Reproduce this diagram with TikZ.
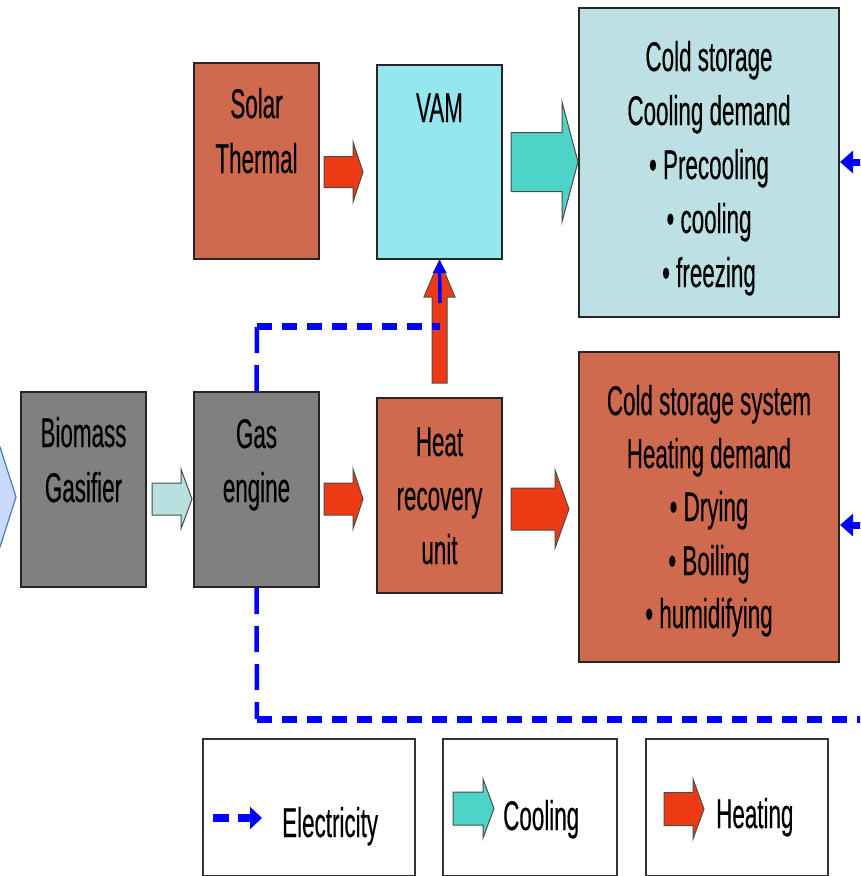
\documentclass[tikz,border=0pt]{standalone}
\usepackage{fontspec}
\setmainfont{Liberation Sans}[FakeStretch=0.54,FakeBold=0.3]
\usetikzlibrary{arrows.meta}
\definecolor{grayfill}{HTML}{808080}
\definecolor{terra}{HTML}{D06A4F}
\definecolor{vamcyan}{HTML}{96E6F0}
\definecolor{coolbox}{HTML}{BCE0E3}
\definecolor{tealarr}{HTML}{4ED3C8}
\definecolor{redarr}{HTML}{EE3A14}
\definecolor{lightarr}{HTML}{B8E0E0}
\definecolor{pentfill}{HTML}{C9DAF8}
\definecolor{pentline}{HTML}{4A7EBB}
\definecolor{elecblue}{HTML}{0000FF}
\newcommand\myharrow[7]{%
  \filldraw[blockarr, fill=#7] (#1,{#4-#5}) -- (#3,{#4-#5}) -- (#3,{#4-#6}) -- (#2,#4)
    -- (#3,{#4+#6}) -- (#3,{#4+#5}) -- (#1,{#4+#5}) -- cycle;}
\begin{document}
\begin{tikzpicture}[x=1pt,y=-1pt,
  boxnode/.style={draw=black!85, line width=2pt, inner sep=0pt},
  legbox/.style={draw=black!80, line width=1.4pt, fill=white, inner sep=0pt},
  txt/.style={anchor=base, inner sep=0pt, font=\fontsize{41.5}{54}\selectfont},
  blockarr/.style={draw=black!70, line width=1pt, line join=miter},
  elech/.style={draw=elecblue, line width=7pt, dash pattern=on 15pt off 10pt},
  elecv/.style={draw=elecblue, line width=4.5pt, dash pattern=on 26pt off 12pt},
]
\useasboundingbox (0,0) rectangle (860,876);
\clip (0,0) rectangle (860,876);

% partial input arrow on the left
\filldraw[fill=pentfill, draw=pentline, line width=1.2pt]
  (-20,447) -- (0,447) -- (16,497) -- (0,547) -- (-20,547) -- cycle;

% boxes
\node[boxnode, fill=grayfill, minimum width=125pt, minimum height=195pt] (gasifier) at (83.5,489.5) {};
\node[boxnode, fill=grayfill, minimum width=125pt, minimum height=195pt] (engine) at (256.5,489.5) {};
\node[boxnode, fill=terra, minimum width=125pt, minimum height=195pt] (hru) at (439.5,495.5) {};
\node[boxnode, fill=terra, minimum width=125pt, minimum height=196pt] (solar) at (256.5,161) {};
\node[boxnode, fill=vamcyan, minimum width=125pt, minimum height=194pt] (vam) at (439.5,162) {};
\node[boxnode, fill=coolbox, minimum width=260pt, minimum height=309pt] (cool) at (709,162.5) {};
\node[boxnode, fill=terra, minimum width=260pt, minimum height=310pt] (heat) at (709,507) {};

% box texts
\node[txt] (t1) at (83.5,447) {Biomass};
\node[txt] (t2) at (83.5,502) {Gasifier};
\node[txt] (t3) at (256.5,448) {Gas};
\node[txt] (t4) at (256.5,502) {engine};
\node[txt] (t5) at (439.5,456) {Heat};
\node[txt] (t6) at (439.5,510) {recovery};
\node[txt] (t7) at (439.5,564) {unit};
\node[txt] (t8) at (256.5,118) {Solar};
\node[txt] (t9) at (256.5,173) {Thermal};
\node[txt] (t10) at (439.5,122) {VAM};
\node[txt] (c1) at (709,71) {Cold storage};
\node[txt] (c2) at (709,125) {Cooling demand};
\node[txt] (c3) at (709,179) {• Precooling};
\node[txt] (c4) at (709,233) {• cooling};
\node[txt] (c5) at (709,287) {• freezing};
\node[txt] (h1) at (709,415) {Cold storage system};
\node[txt] (h2) at (709,468) {Heating demand};
\node[txt] (h3) at (709,521) {• Drying};
\node[txt] (h4) at (709,575) {• Boiling};
\node[txt] (h5) at (709,628) {• humidifying};

% block arrows
\myharrow{152}{192}{181}{499}{16}{30}{lightarr}
\myharrow{324}{363}{353}{499}{16}{30}{redarr}
\myharrow{324}{363}{353}{172}{15.5}{30}{redarr}
\myharrow{511}{578}{562}{162}{29.5}{60}{tealarr}
\myharrow{511}{569}{555}{509}{21}{39}{redarr}
\filldraw[blockarr, fill=redarr] (432,383) -- (432,297) -- (424,297) -- (vam.south)
  -- (455,297) -- (447,297) -- (447,383) -- cycle;

% electricity
\coordinate (ecorner) at (257,326);
\coordinate (ejoin) at (440,326);
\coordinate (estart) at (440,303);
\coordinate (ebottom) at (257,719);
\coordinate (eright) at (870,719);
\coordinate (coolin) at (862,162);
\coordinate (heatin) at (862,525);
\draw[elecv] (engine.north) -- (ecorner);
\draw[elech] (ecorner) -- (ejoin);
\draw[elecblue, line width=3.5pt, -{Triangle[length=13pt,width=13pt]}] (estart) -- (vam.south);
\draw[elecv] (engine.south) -- (ebottom);
\draw[elech] (ebottom) -- (eright);
\draw[elecblue, line width=7pt, -{Triangle[length=13pt,width=22pt]}] (coolin) -- (cool.east |- coolin);
\draw[elecblue, line width=7pt, -{Triangle[length=13pt,width=22pt]}] (heatin) -- (heat.east |- heatin);

% legend
\node[legbox, minimum width=212pt, minimum height=137pt] (leg1) at (309,807.5) {};
\node[legbox, minimum width=174pt, minimum height=137pt] (leg2) at (530,807.5) {};
\node[legbox, minimum width=182pt, minimum height=137pt] (leg3) at (737,807.5) {};
\coordinate (ld1) at (213,818);
\coordinate (ld2) at (229,818);
\coordinate (la1) at (238,818);
\coordinate (la2) at (262,818);
\draw[elecblue, line width=8pt] (ld1) -- (ld2);
\draw[elecblue, line width=8pt, -{Triangle[length=12pt,width=22pt]}] (la1) -- (la2);
\node[txt, anchor=base west] (l1) at (282,837) {Electricity};
\myharrow{453}{494}{483}{808.5}{16.5}{29.5}{tealarr}
\node[txt, anchor=base west] (l2) at (503,830) {Cooling};
\myharrow{664}{704}{693}{809}{16.5}{30}{redarr}
\node[txt, anchor=base west] (l3) at (716,828) {Heating};
\end{tikzpicture}
\end{document}
